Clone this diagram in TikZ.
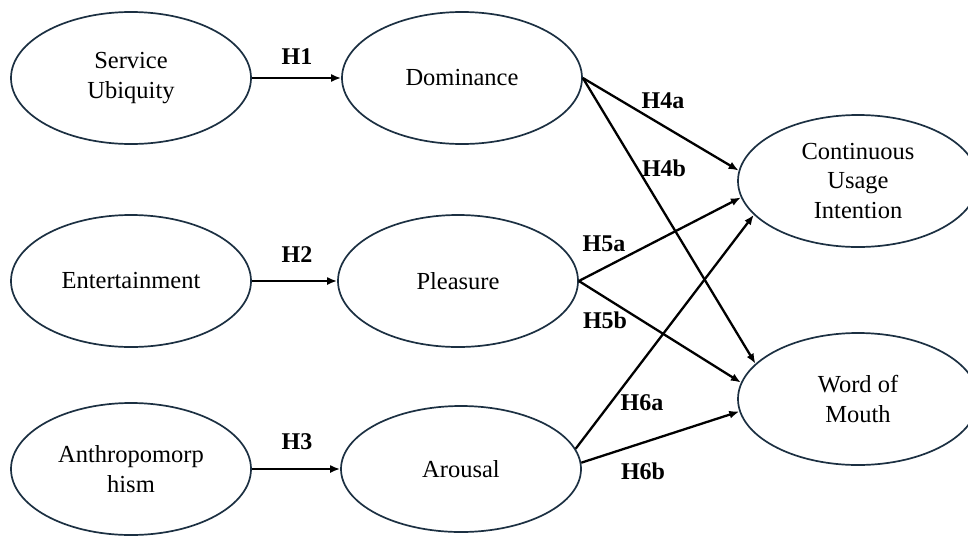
\documentclass[tikz,border=0pt]{standalone}
\usepackage{fontspec}
\setmainfont{Liberation Serif}
\usetikzlibrary{arrows.meta,shapes.geometric}
\definecolor{edgecol}{RGB}{28,48,66}
\begin{document}
\begin{tikzpicture}[x=1pt,y=-1pt,
  construct/.style={ellipse, draw=edgecol, line width=1.7pt, minimum width=240pt, minimum height=132pt, inner sep=0pt, align=center, font=\fontsize{24.5}{29.5}\selectfont},
  hyp/.style={font=\bfseries\fontsize{24}{28}\selectfont, inner sep=0pt},
  link/.style={line width=2.3pt, -{Latex[length=10pt,width=8pt]}}]
\fill[white] (0,0) rectangle (968,536);
\useasboundingbox (0,0) rectangle (968,536);
\clip (0,0) rectangle (968,536);

\node[construct] (su)  at (131,78)  {Service\\Ubiquity};
\node[construct] (ent) at (131,281) {Entertainment};
\node[construct] (ant) at (131,469) {Anthropomorp\\hism};

\node[construct] (dom) at (462,78)  {Dominance};
\node[construct] (ple) at (458,281) {Pleasure};
\node[construct, minimum height=126pt] (aro) at (461,469) {Arousal};

\node[construct] (cui) at (858,181) {Continuous\\Usage\\Intention};
\node[construct] (wom) at (858,399) {Word of\\Mouth};

\draw[link] (su.east) -- (dom.west);
\draw[link] (ent.east) -- (ple.west);
\draw[link] (ant.east) -- (aro.west);

\draw[link] (dom.east) -- (cui.175);
\draw[link] (dom.east) -- (wom.161);
\draw[link] (ple.east) -- (cui.188);
\draw[link] (ple.east) -- (wom.172);
\draw[link] (aro.10) -- (cui.198);
\draw[link] (aro.3) -- (wom.186);

\node[hyp] (h1) at (297,57) {H1};
\node[hyp] (h2) at (297,255) {H2};
\node[hyp] (h3) at (297,442) {H3};
\node[hyp] (h4a) at (663,101) {H4a};
\node[hyp] (h4b) at (664,168) {H4b};
\node[hyp] (h5a) at (604,244) {H5a};
\node[hyp] (h5b) at (605,320) {H5b};
\node[hyp] (h6a) at (642,403) {H6a};
\node[hyp] (h6b) at (643,471) {H6b};
\end{tikzpicture}
\end{document}
